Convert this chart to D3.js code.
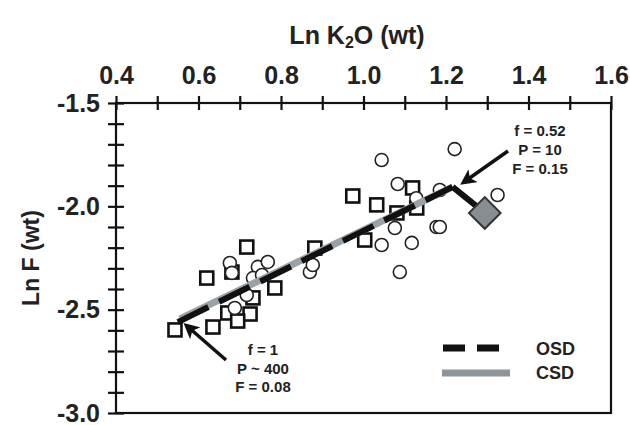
<!DOCTYPE html>
<html><head><meta charset="utf-8">
<script src="https://cdn.jsdelivr.net/npm/d3@7"></script>
<style>
html,body{margin:0;padding:0;background:#fff;}
svg text{font-family:"Liberation Sans",Arial,sans-serif;}
</style></head>
<body>
<svg id="c" width="630" height="425"></svg>
<script>
// ---- data ----
const xMajorTicks = [0.4, 0.6, 0.8, 1.0, 1.2, 1.4, 1.6];
const xMinorTicks = [0.4,0.5,0.6,0.7,0.8,0.9,1.0,1.1,1.2,1.3,1.4,1.5,1.6];
const yMajorTicks = [-1.5, -2.0, -2.5, -3.0];
const yMinorTicks = [-1.5,-1.6,-1.7,-1.8,-1.9,-2.0,-2.1,-2.2,-2.3,-2.4,-2.5,-2.6,-2.7,-2.8,-2.9,-3.0];

const squareX = [0.543,0.635,0.725,0.671,0.695,0.620,0.717,0.785,0.681,0.732,0.882,0.974,1.032,1.003,1.081,1.119,1.129];
const squareY = [-2.598,-2.584,-2.521,-2.516,-2.555,-2.347,-2.197,-2.395,-2.318,-2.443,-2.202,-1.950,-1.993,-2.163,-2.032,-1.911,-2.008];

const circleX = [0.676,0.681,0.744,0.768,0.732,0.754,0.688,0.717,0.870,0.877,1.044,1.221,1.083,1.185,1.325,1.076,1.044,1.117,1.177,1.185,1.088,1.128];
const circleY = [-2.274,-2.322,-2.293,-2.269,-2.347,-2.332,-2.492,-2.429,-2.318,-2.284,-1.776,-1.723,-1.892,-1.921,-1.945,-2.105,-2.187,-2.177,-2.100,-2.100,-2.318,-1.961];

const osdX = [0.550, 1.216, 1.294];
const osdY = [-2.560, -1.906, -2.032];
const csdX = [0.555, 1.216];
const csdY = [-2.545, -1.906];

const diamondX = [1.294];
const diamondY = [-2.032];

const annotLow = ["f = 1", "P ~ 400", "F = 0.08"];
const annotHigh = ["f = 0.52", "P = 10", "F = 0.15"];
const legendNames = ["OSD", "CSD"];

// ---- layout ----
const svg = d3.select("#c");
const L = 116, R = 611, T = 103, B = 413;
const x = d3.scaleLinear().domain([0.4, 1.6]).range([L, R]);
const y = d3.scaleLinear().domain([-1.5, -3.0]).range([T, B]);
const fmt = d => d.toFixed(1);
const FS = 25;

// frame
svg.append("rect").attr("x", L).attr("y", T).attr("width", R - L).attr("height", B - T)
  .attr("fill", "none").attr("stroke", "#111").attr("stroke-width", 2.2);

// top axis
const gx = svg.append("g").attr("transform", `translate(0,${T})`);
gx.call(d3.axisTop(x).tickValues(xMinorTicks).tickSize(0).tickFormat(""));
gx.selectAll(".tick line").remove();
gx.selectAll(".tick").append("line").attr("y1", -7).attr("y2", 7).attr("stroke", "#111").attr("stroke-width", 2.2);
gx.select(".domain").remove();
const gxl = svg.append("g").attr("transform", `translate(0,${T})`);
gxl.call(d3.axisTop(x).tickValues(xMajorTicks).tickSize(0).tickPadding(19).tickFormat(fmt));
gxl.select(".domain").remove();
gxl.selectAll("text").attr("font-size", FS).attr("font-weight", "bold").attr("fill", "#222")
  .attr("font-family", "Liberation Sans, Arial, sans-serif");

// left axis
const gy = svg.append("g").attr("transform", `translate(${L},0)`);
gy.call(d3.axisLeft(y).tickValues(yMinorTicks).tickSize(0).tickFormat(""));
gy.selectAll(".tick line").remove();
gy.selectAll(".tick").append("line").attr("x1", -8).attr("x2", 8).attr("stroke", "#111").attr("stroke-width", 2.2);
gy.select(".domain").remove();
const gyl = svg.append("g").attr("transform", `translate(${L},0)`);
gyl.call(d3.axisLeft(y).tickValues(yMajorTicks).tickSize(0).tickPadding(16).tickFormat(fmt));
gyl.select(".domain").remove();
gyl.selectAll("text").attr("font-size", FS).attr("font-weight", "bold").attr("fill", "#222")
  .attr("font-family", "Liberation Sans, Arial, sans-serif");

// axis titles
const xt = svg.append("text").attr("x", 357).attr("y", 44).attr("text-anchor", "middle")
  .attr("font-size", FS).attr("font-weight", "bold").attr("fill", "#222");
xt.append("tspan").text("Ln K");
xt.append("tspan").text("2").attr("font-size", 16).attr("dy", 4);
xt.append("tspan").text("O (wt)").attr("dy", -4);
svg.append("text").attr("transform", `translate(39,${(T + B) / 2}) rotate(-90)`).attr("text-anchor", "middle")
  .attr("font-size", 23).attr("font-weight", "bold").attr("fill", "#222").text("Ln F (wt)");

// squares
const sq = 13;
svg.append("g").selectAll("rect").data(squareX.map((d, i) => [d, squareY[i]])).join("rect")
  .attr("x", d => x(d[0]) - sq / 2).attr("y", d => y(d[1]) - sq / 2)
  .attr("width", sq).attr("height", sq)
  .attr("fill", "#fff").attr("stroke", "#111").attr("stroke-width", 2.6);

// circles
svg.append("g").selectAll("circle").data(circleX.map((d, i) => [d, circleY[i]])).join("circle")
  .attr("cx", d => x(d[0])).attr("cy", d => y(d[1])).attr("r", 6.5)
  .attr("fill", "#fff").attr("stroke", "#222").attr("stroke-width", 1.6);

// lines
const line = d3.line().x(d => x(d[0])).y(d => y(d[1]));
svg.append("path").datum(csdX.map((d, i) => [d, csdY[i]])).attr("d", line)
  .attr("fill", "none").attr("stroke", "#9aa2a8").attr("stroke-width", 7);
const osdPts = osdX.map((d, i) => [d, osdY[i]]);
svg.append("path").datum(osdPts.slice(0, 2)).attr("d", line)
  .attr("fill", "none").attr("stroke", "#111").attr("stroke-width", 6).attr("stroke-dasharray", "34,12");
svg.append("path").datum(osdPts.slice(1)).attr("d", line)
  .attr("fill", "none").attr("stroke", "#111").attr("stroke-width", 6);

// diamond
svg.append("g").selectAll("path").data(diamondX.map((d, i) => [d, diamondY[i]])).join("path")
  .attr("d", d3.symbol().type(d3.symbolSquare).size(500))
  .attr("transform", d => `translate(${x(d[0])},${y(d[1])}) rotate(45)`)
  .attr("fill", "#878d93").attr("stroke", "#333").attr("stroke-width", 2);

// arrows
svg.append("defs").append("marker").attr("id", "ah").attr("viewBox", "0 0 10 10")
  .attr("refX", 7).attr("refY", 5).attr("markerWidth", 4.5).attr("markerHeight", 4.5)
  .attr("markerUnits", "strokeWidth").attr("orient", "auto")
  .append("path").attr("d", "M0,0 L10,5 L0,10 L2.5,5 Z").attr("fill", "#111");
svg.append("line").attr("x1", 226).attr("y1", 360).attr("x2", 187).attr("y2", 326)
  .attr("stroke", "#111").attr("stroke-width", 3.5).attr("marker-end", "url(#ah)");
svg.append("line").attr("x1", 508).attr("y1", 151).attr("x2", 464).attr("y2", 182)
  .attr("stroke", "#111").attr("stroke-width", 3.5).attr("marker-end", "url(#ah)");

// annotations
svg.append("g").selectAll("text").data(annotLow).join("text")
  .attr("x", 263).attr("y", (d, i) => 355 + i * 18.7).attr("text-anchor", "middle")
  .attr("font-size", 15).attr("font-weight", "bold").attr("fill", "#222").text(d => d);
svg.append("g").selectAll("text").data(annotHigh).join("text")
  .attr("x", 540).attr("y", (d, i) => 136 + i * 19).attr("text-anchor", "middle")
  .attr("font-size", 15).attr("font-weight", "bold").attr("fill", "#222").text(d => d);

// legend
svg.append("line").attr("x1", 443).attr("x2", 499).attr("y1", 348).attr("y2", 348)
  .attr("stroke", "#111").attr("stroke-width", 7).attr("stroke-dasharray", "22,12");
svg.append("line").attr("x1", 442).attr("x2", 510).attr("y1", 373).attr("y2", 373)
  .attr("stroke", "#8e969c").attr("stroke-width", 7);
svg.append("g").selectAll("text").data(legendNames).join("text")
  .attr("x", 536).attr("y", (d, i) => 354.5 + i * 24.5)
  .attr("font-size", 18).attr("font-weight", "bold").attr("fill", "#222").text(d => d);
</script>
</body></html>
